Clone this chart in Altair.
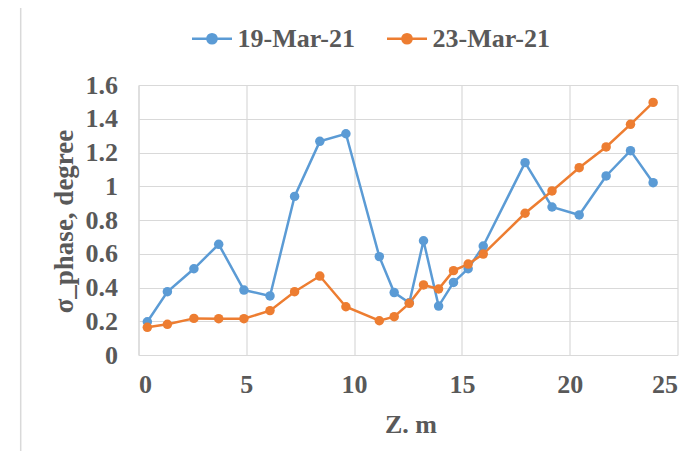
import altair as alt
import pandas as pd

z = [0.41, 1.34, 2.57, 3.72, 4.89, 6.10, 7.24, 8.41, 9.62, 11.17, 11.86, 12.56,
     13.22, 13.92, 14.61, 15.29, 15.99, 17.93, 19.18, 20.44, 21.69, 22.82, 23.87]
mar19 = [0.197, 0.375, 0.511, 0.656, 0.385, 0.35, 0.94, 1.266, 1.311, 0.583, 0.37, 0.31,
         0.677, 0.29, 0.43, 0.511, 0.646, 1.14, 0.877, 0.83, 1.061, 1.211, 1.021]
mar23 = [0.164, 0.182, 0.217, 0.215, 0.215, 0.263, 0.375, 0.468, 0.286, 0.203, 0.227, 0.306,
         0.415, 0.391, 0.5, 0.539, 0.598, 0.84, 0.972, 1.11, 1.233, 1.367, 1.497]
series = ["19-Mar-21", "23-Mar-21"]
colors = ["#5B9BD5", "#ED7D31"]

rows = []
for name, vals in zip(series, [mar19, mar23]):
    for zi, v in zip(z, vals):
        rows.append({"z": zi, "v": v, "s": name})
df = pd.DataFrame(rows)

FONT = "Liberation Serif"
TXT = "#595959"
GRID = "#d9d9d9"

sym = "M-1,0H1M0.23,0A0.23,0.23 0 1,1 -0.23,0A0.23,0.23 0 1,1 0.23,0"

xenc = alt.X("z:Q", scale=alt.Scale(domain=[0, 25], nice=False),
             axis=alt.Axis(values=[0, 5, 10, 15, 20, 25], title="Z. m",
                           titleBaseline="alphabetic", titleY=77, titleX=272))
yenc = alt.Y("v:Q", scale=alt.Scale(domain=[0, 1.6], nice=False),
             axis=alt.Axis(values=[0, 0.2, 0.4, 0.6, 0.8, 1.0, 1.2, 1.4, 1.6],
                           title="σ_phase, degree", labelExpr="format(datum.value, '.2~f')",
                           titleBaseline="alphabetic", titleX=-66, titleY=136,
                           titleAngle=-90, titleAlign="center", titleFontSize=27))
cenc = alt.Color("s:N", scale=alt.Scale(domain=series, range=colors),
                 legend=alt.Legend(title=None, orient="none", direction="horizontal",
                                   legendX=52, legendY=-68, symbolType=sym,
                                   symbolSize=1600, symbolStrokeWidth=2.5,
                                   labelOffset=4, columnPadding=26, padding=0))

lines = alt.Chart(df).mark_line(strokeWidth=2.5).encode(x=xenc, y=yenc, color=cenc)
points = alt.Chart(df).mark_point(filled=True, size=90, opacity=1).encode(
    x=xenc, y=yenc, color=cenc)

border = alt.Chart(alt.Data(values=[{"a": 1}])).mark_rect(
    fill=None, stroke=GRID, strokeWidth=1.5, clip=False).encode(
    x=alt.value(-117.8), x2=alt.value(700), y=alt.value(-78.3), y2=alt.value(500))

chart = alt.layer(border, lines, points).properties(
    width=539, height=270,
    autosize=alt.AutoSizeParams(type="none"),
    padding={"left": 130.5, "top": 77, "right": 14.5, "bottom": 96},
).configure_view(stroke=None).configure_axis(
    labelFont=FONT, labelFontSize=26, labelFontWeight="bold", labelColor=TXT,
    titleFont=FONT, titleFontSize=26, titleFontWeight="bold", titleColor=TXT,
    grid=True, gridColor=GRID, gridWidth=1.2, domainColor=GRID, domainWidth=1.2,
    ticks=False,
).configure_axisX(labelPadding=16).configure_axisY(labelPadding=21).configure_legend(
    labelFont=FONT, labelFontSize=26, labelFontWeight="bold", labelColor=TXT,
)

chart.save("out.html", embed_options={"renderer": "svg", "actions": False})
